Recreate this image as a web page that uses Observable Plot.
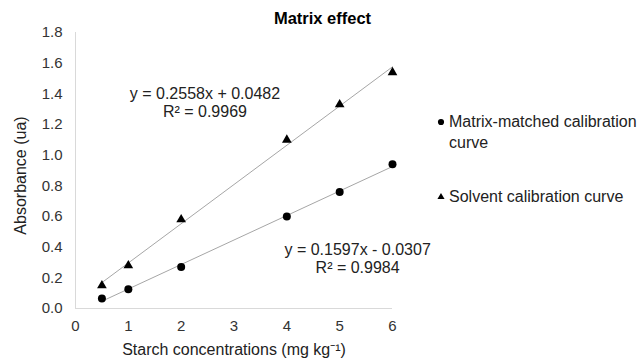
<!DOCTYPE html>
<html>
<head>
<meta charset="utf-8">
<script src="https://cdn.jsdelivr.net/npm/d3@7"></script>
<script src="https://cdn.jsdelivr.net/npm/@observablehq/plot@0.6"></script>
<style>
  body { margin: 0; background: #fff; font-family: "Liberation Sans", Arial, sans-serif; }
  #wrap { position: relative; width: 641px; height: 361px; }
  #title { position: absolute; left: 0; width: 641px; top: 9px; text-align: center; font-weight: bold; font-size: 16.5px; color: #000; padding-left: 4px; box-sizing: border-box; }
  .leg { position: absolute; font-size: 16px; color: #222; line-height: 21px; white-space: nowrap; }
  .sym { position: absolute; }
</style>
</head>
<body>
<div id="wrap">
  <div id="title">Matrix effect</div>
</div>
<script>
const concentrations = [0.5, 1, 2, 4, 5, 6];
const matrixValues = [0.065, 0.125, 0.27, 0.60, 0.76, 0.94];
const solventValues = [0.15, 0.28, 0.58, 1.10, 1.33, 1.54];
const yTicks = [0, 0.2, 0.4, 0.6, 0.8, 1.0, 1.2, 1.4, 1.6, 1.8];
const xTicks = [0, 1, 2, 3, 4, 5, 6];
const seriesNames = ["Matrix-matched calibration curve", "Solvent calibration curve"];
const xLabel = "Starch concentrations (mg kg⁻¹)";
const yLabel = "Absorbance (ua)";
const equations = [
  {text: "y = 0.2558x + 0.0482\nR² = 0.9969", x: 2.45, y: 1.347},
  {text: "y = 0.1597x - 0.0307\nR² = 0.9984", x: 5.34, y: 0.33}
];

const matrix = concentrations.map((c, i) => ({x: c, y: matrixValues[i], s: seriesNames[0]}));
const solvent = concentrations.map((c, i) => ({x: c, y: solventValues[i], s: seriesNames[1]}));

const chart = Plot.plot({
  width: 641,
  height: 361,
  marginLeft: 75,
  marginRight: 249,
  marginTop: 32,
  marginBottom: 53,
  style: {fontFamily: "'Liberation Sans', Arial, sans-serif", fontSize: "15px", color: "#333", background: "transparent", overflow: "visible"},
  x: {domain: [0, 6], ticks: xTicks, tickSize: 0, tickPadding: 12, tickFormat: d3.format("d"), label: null},
  y: {domain: [0, 1.8], ticks: yTicks, tickSize: 0, tickPadding: 13, tickFormat: d3.format(".1f"), label: null},
  marks: [
    Plot.ruleY([0], {stroke: "#d9d9d9", strokeWidth: 1}),
    Plot.ruleX([0], {stroke: "#d9d9d9", strokeWidth: 1}),
    Plot.linearRegressionY(solvent, {x: "x", y: "y", stroke: "#a6a6a6", strokeWidth: 1, ci: 0}),
    Plot.linearRegressionY(matrix, {x: "x", y: "y", stroke: "#a6a6a6", strokeWidth: 1, ci: 0}),
    Plot.dot(matrix, {x: "x", y: "y", r: 4, fill: "#000", symbol: "circle"}),
    Plot.dot(solvent, {x: "x", y: "y", r: 3.6, fill: "#000", symbol: "triangle"}),
    Plot.text(equations, {x: "x", y: "y", text: "text", fill: "#222", fontSize: 16, lineHeight: 1.15, textAnchor: "middle"}),
    Plot.text([xLabel], {frameAnchor: "bottom", dy: 46, text: d => d, fontSize: 16, fill: "#222", textAnchor: "middle"}),
    Plot.text([yLabel], {frameAnchor: "left", dx: -55, dy: 5, rotate: -90, text: d => d, fontSize: 16, fill: "#222", textAnchor: "middle"})
  ]
});
document.getElementById("wrap").appendChild(chart);
chart.style.position = "absolute";
chart.style.left = "0";
chart.style.top = "0";

const wrap = document.getElementById("wrap");
const legendItems = [
  {name: "Matrix-matched calibration<br>curve", symbol: "circle", top: 111},
  {name: "Solvent calibration curve", symbol: "triangle", top: 186}
];
legendItems.forEach(item => {
  const t = document.createElement("div");
  t.className = "leg";
  t.style.left = "449px";
  t.style.top = item.top + "px";
  t.innerHTML = item.name;
  wrap.appendChild(t);
  const s = d3.create("svg").attr("width", 12).attr("height", 12)
    .attr("class", "sym")
    .style("left", "435px").style("top", (item.top + 5) + "px");
  s.append("path").attr("transform", "translate(6,6)")
    .attr("d", d3.symbol(item.symbol === "circle" ? d3.symbolCircle : d3.symbolTriangle, item.symbol === "circle" ? 30 : 22)())
    .attr("fill", "#000");
  wrap.appendChild(s.node());
});
</script>
</body>
</html>
